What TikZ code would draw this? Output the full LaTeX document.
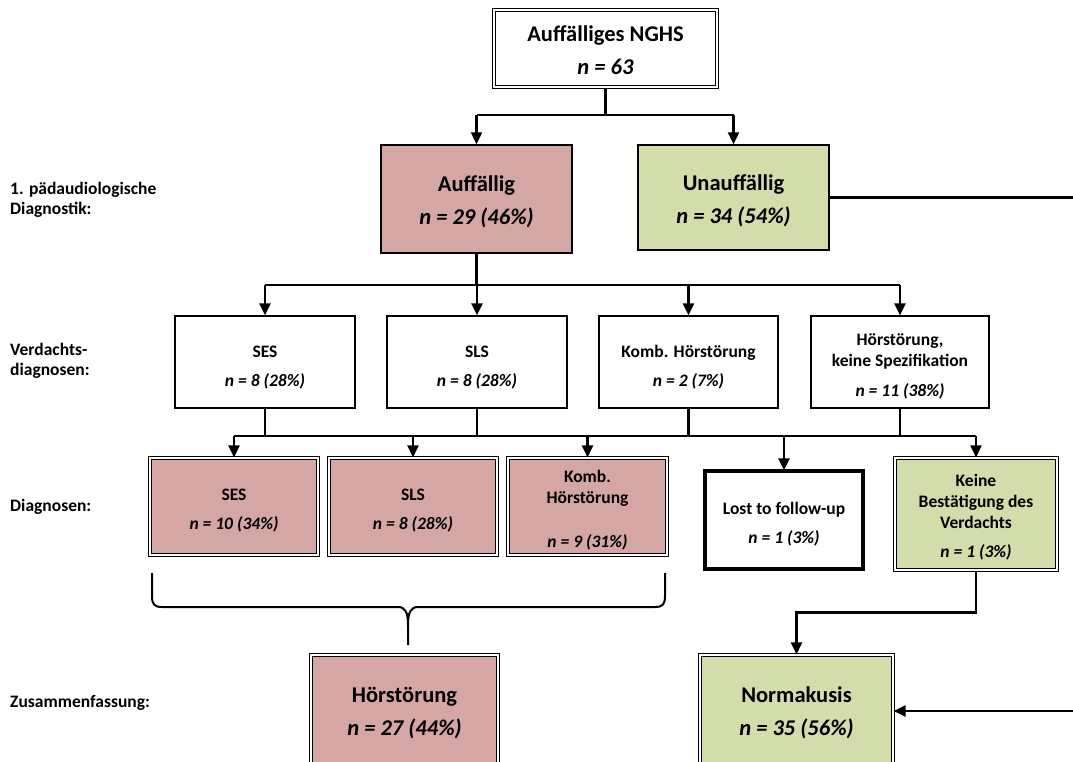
\documentclass[tikz,border=0pt]{standalone}
\usepackage{fontspec}
\setmainfont{Carlito}
\usetikzlibrary{arrows.meta}
\definecolor{pinkf}{RGB}{212,166,164}
\definecolor{greenf}{RGB}{211,220,171}
\newcommand\dn[1]{\rule{0pt}{#1}}
\begin{document}
\begin{tikzpicture}[x=1pt,y=-1pt,
 box/.style={draw=black, line width=1.4pt, align=center, inner sep=0pt},
 dbl/.style={draw=black, double=white, line width=1.1pt, double distance=1.6pt, align=center, inner sep=0pt},
 fbig/.style={font=\bfseries\fontsize{22.5}{33}\selectfont},
 fmid/.style={font=\bfseries\fontsize{17.5}{21}\selectfont},
 fsml/.style={font=\bfseries\fontsize{17.5}{21}\selectfont},
 conn/.style={line width=2.2pt},
 arr/.style={line width=2.2pt, -{Triangle[width=11pt,length=12pt]}},
 lbl/.style={align=left, anchor=west, font=\bfseries\fontsize{17.5}{20}\selectfont, inner sep=0pt}
]
\path[use as bounding box] (0,0) rectangle (1073,762);
\clip (0,0) rectangle (1073,762);

% level 0
\node[dbl, fbig, minimum width=223pt, minimum height=77pt] (top) at (605.5,48.5)
  {\dn{20pt}Auffälliges NGHS\\\textit{n = 63}};

% level 1
\node[box, fbig, fill=pinkf, minimum width=191pt, minimum height=108pt] (auff) at (476.5,199)
  {\dn{22pt}Auffällig\\\textit{n = 29 (46\%)}};
\node[box, fbig, fill=greenf, minimum width=191pt, minimum height=105pt] (unauff) at (733.5,197.5)
  {\dn{22pt}Unauffällig\\\textit{n = 34 (54\%)}};

% level 2
\node[box, fmid, line width=1.2pt, minimum width=180pt, minimum height=92pt] (v1) at (265,362)
  {\dn{22pt}SES\\[8pt]\textit{n = 8 (28\%)}};
\node[box, fmid, line width=1.2pt, minimum width=180pt, minimum height=92pt] (v2) at (477,362)
  {\dn{22pt}SLS\\[8pt]\textit{n = 8 (28\%)}};
\node[box, fmid, line width=1.2pt, minimum width=179pt, minimum height=92pt] (v3) at (688.5,362)
  {\dn{22pt}Komb. Hörstörung\\[8pt]\textit{n = 2 (7\%)}};
\node[box, fmid, line width=1.2pt, minimum width=178pt, minimum height=92pt] (v4) at (900,362)
  {\dn{21pt}Hörstörung,\\keine Spezifikation\\[9pt]\textit{n = 11 (38\%)}};

% level 3
\node[dbl, fsml, fill=pinkf, minimum width=168pt, minimum height=97pt] (d1) at (234,506.5)
  {\dn{19pt}SES\\[8pt]\textit{n = 10 (34\%)}};
\node[dbl, fsml, fill=pinkf, minimum width=168pt, minimum height=97pt] (d2) at (413,506.5)
  {\dn{19pt}SLS\\[8pt]\textit{n = 8 (28\%)}};
\node[dbl, fsml, fill=pinkf, minimum width=159pt, minimum height=97pt] (d3) at (587.5,506.5)
  {\dn{19pt}Komb.\\Hörstörung\\[23pt]\textit{n = 9 (31\%)}};
\node[box, fsml, line width=3.2pt, minimum width=158pt, minimum height=98pt] (lost) at (784,520)
  {\dn{20pt}Lost to follow-up\\[8pt]\textit{n = 1 (3\%)}};
\node[dbl, fsml, fill=greenf, minimum width=162pt, minimum height=112pt] (keine) at (976,514)
  {\dn{19pt}Keine\\Bestätigung des\\Verdachts\\[8pt]\textit{n = 1 (3\%)}};

% level 4
\node[dbl, fbig, fill=pinkf, minimum width=187pt, minimum height=112pt] (hs) at (404.5,711)
  {\dn{20pt}Hörstörung\\\textit{n = 27 (44\%)}};
\node[dbl, fbig, fill=greenf, minimum width=193pt, minimum height=112pt] (norm) at (796.5,711)
  {\dn{20pt}Normakusis\\\textit{n = 35 (56\%)}};

% left labels
\node[lbl] (l1) at (10,200) {1. pädaudiologische\\Diagnostik:};
\node[lbl] (l2) at (10,361) {Verdachts-\\diagnosen:};
\node[lbl] (l3) at (10,507) {Diagnosen:};
\node[lbl] (l4) at (10,703) {Zusammenfassung:};

% connectors
\coordinate (b0) at (0,115);
\draw[conn] (top.south) -- (top.south |- b0);
\draw[conn] (auff.north |- b0) -- (unauff.north |- b0);
\draw[arr] (auff.north |- b0) -- (auff.north);
\draw[arr] (unauff.north |- b0) -- (unauff.north);

\coordinate (b1) at (0,285);
\draw[conn] (auff.south) -- (auff.south |- b1);
\draw[conn] (v1.north |- b1) -- (v4.north |- b1);
\foreach \n in {v1,v2,v3,v4} \draw[arr] (\n.north |- b1) -- (\n.north);

\coordinate (b2) at (0,436);
\foreach \n in {v1,v2,v3,v4} \draw[conn] (\n.south) -- (\n.south |- b2);
\draw[conn] (d1.north |- b2) -- (keine.north |- b2);
\foreach \n in {d1,d2,d3,keine} \draw[arr] (\n.north |- b2) -- (\n.north);
\draw[arr] (lost.north |- b2) -- ([yshift=-1pt]lost.north);

\draw[arr] (keine.south) -- ++(0,42) -| (norm.north);
\draw[arr] (unauff.east) -- ++(330,0) |- (norm.east);

% brace
\coordinate (bl) at (152,573);
\coordinate (br) at (665,573);
\coordinate (bt) at (408,645);
\draw[line width=2pt]
  (bl) -- (152,596) .. controls (152,604) and (154,607) .. (162,607)
  -- (398,607) .. controls (405,607) and (408,612) .. (408,625) -- (bt);
\draw[line width=2pt]
  (br) -- (665,596) .. controls (665,604) and (663,607) .. (655,607)
  -- (418,607) .. controls (411,607) and (408,612) .. (408,625);
\end{tikzpicture}
\end{document}
